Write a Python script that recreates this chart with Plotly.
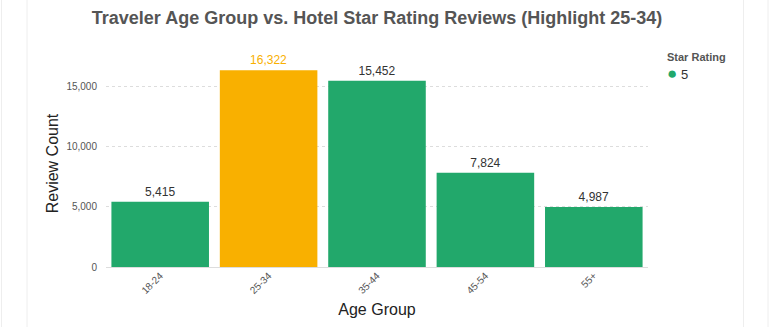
import plotly.graph_objects as go

categories = ["18-24", "25-34", "35-44", "45-54", "55+"]
values = [5415, 16322, 15452, 7824, 4987]
highlight = "25-34"
legend_title = "Star Rating"
legend_label = "5"

green = "#22a86b"
orange = "#f9b000"
colors = [orange if c == highlight else green for c in categories]
text_colors = [orange if c == highlight else "#333333" for c in categories]

fig = go.Figure()
fig.add_trace(go.Bar(
    x=categories, y=values,
    marker=dict(color=colors, line=dict(width=0)),
    text=[f"{v:,}" for v in values],
    textposition="outside",
    textfont=dict(color=text_colors, size=12),
    cliponaxis=False,
    showlegend=False,
))

L, R, T, B = 106, 123, 60, 58
W, H = 771, 327
pw = W - L - R
ph = H - T - B

def px2x(px):
    return (px - L) / pw

def py2y(py):
    return (H - B - py) / ph

shapes = []
for px in [1.5, 27, 743.5, 768]:
    xp = px2x(px)
    shapes.append(dict(type="line", xref="paper", yref="paper",
                       x0=xp, x1=xp, y0=-0.5, y1=1.5,
                       line=dict(color="#eeeeee", width=1), layer="below"))

annotations = [
    dict(text=f"<b>{legend_title}</b>", xref="paper", yref="paper",
         x=px2x(665), y=py2y(57), xanchor="left", yanchor="middle",
         showarrow=False, font=dict(size=11, color="#555555")),
    dict(text=f'<span style="color:{green};font-size:17px">●</span> {legend_label}', xref="paper", yref="paper",
         x=px2x(665), y=py2y(74), xanchor="left", yanchor="middle",
         showarrow=False, font=dict(size=13, color="#333333")),
]

fig.update_layout(
    width=W, height=H,
    margin=dict(l=L, r=R, t=T, b=B),
    paper_bgcolor="white", plot_bgcolor="white",
    font=dict(family="Liberation Sans, Arial, sans-serif"),
    title=dict(text="<b>Traveler Age Group vs. Hotel Star Rating Reviews (Highlight 25-34)</b>",
               x=0.5, xref="paper", xanchor="center", y=0.945, yanchor="middle",
               font=dict(size=18, color="#555555")),
    bargap=0.1,
    shapes=shapes,
    annotations=annotations,
    showlegend=False,
    xaxis=dict(title=dict(text="Age Group", font=dict(size=16, color="#222222"), standoff=8),
               tickangle=-45, tickfont=dict(size=10, color="#555555"),
               showgrid=False, showline=False, ticks=""),
    yaxis=dict(title=dict(text="Review Count", font=dict(size=16, color="#222222"), standoff=3),
               range=[0, 17180], tickvals=[0, 5000, 10000, 15000],
               tickformat=",", tickfont=dict(size=10, color="#555555"),
               showgrid=True, gridcolor="#dddddd", griddash="dot", gridwidth=1,
               zeroline=True, zerolinecolor="#dddddd", zerolinewidth=1,
               showline=False, ticks="outside", ticklen=6, tickcolor="rgba(0,0,0,0)"),
)

fig.write_html("out.html")
